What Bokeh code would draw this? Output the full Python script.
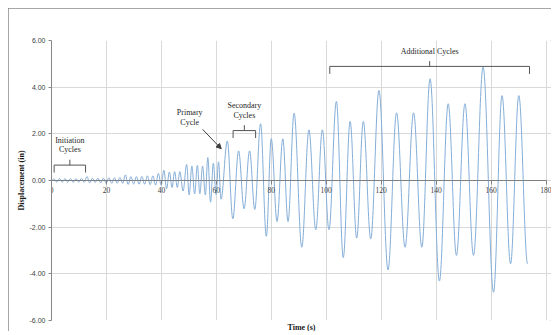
from bokeh.plotting import figure
from bokeh.models import (ColumnDataSource, Label, NumeralTickFormatter, Range1d,
                          Arrow, NormalHead, Title)
from bokeh.embed import file_html
from bokeh.resources import INLINE

# ---- data: extrema of the displacement record (time in s, displacement in in) ----
time_s = [0.0,
          0.9, 1.9, 2.9, 3.9, 4.9, 5.9, 6.9, 7.9, 8.9, 9.9,
          10.9, 11.9, 12.9, 13.9, 14.9, 15.9, 16.9, 17.9, 18.9, 19.9,
          20.9, 21.9, 22.9, 23.9, 24.9, 25.9, 26.9, 27.9, 28.9, 29.9,
          30.9, 31.9, 32.9, 33.9, 34.9, 35.9, 36.9, 37.9, 38.9, 39.9,
          40.9, 41.9, 42.9, 43.9, 44.8, 45.8, 46.7, 47.9, 49.2, 50.1, 51.1,
          52.1, 53.1, 54.0, 55.0, 56.0, 56.9, 57.9, 58.9, 59.9, 60.8, 61.7,
          64.0, 66.0, 68.1, 70.1, 72.1, 74.0, 76.1, 78.2, 80.0, 82.1,
          84.2, 86.1, 88.3, 91.1, 93.7, 96.2, 98.6, 101.0, 103.7, 106.2,
          108.7, 111.1, 113.5, 116.2, 119.2, 122.5, 125.6, 128.7, 131.8, 134.8,
          137.8, 141.2, 144.4, 147.4, 150.5, 153.6, 157.1, 160.9, 164.0, 167.1,
          170.1, 173.3]
disp_in = [0.0,
           0.07, -0.07, 0.08, -0.07, 0.08, -0.07, 0.08, -0.08, 0.08, -0.07,
           0.09, -0.08, 0.17, -0.10, 0.10, -0.09, 0.10, -0.10, 0.10, -0.11,
           0.12, -0.12, 0.12, -0.12, 0.13, -0.12, 0.24, -0.17, 0.17, -0.15,
           0.17, -0.16, 0.18, -0.16, 0.20, -0.18, 0.20, -0.20, 0.30, -0.20,
           0.44, -0.35, 0.36, -0.30, 0.38, -0.30, 0.38, -0.45, 0.69, -0.62, 0.62,
           -0.57, 0.65, -0.57, 0.62, -0.62, 0.98, -0.93, 0.74, -0.60, 0.80, -0.80,
           1.69, -1.64, 1.27, -1.21, 1.27, -1.24, 2.43, -2.39, 1.79, -1.76,
           1.79, -1.76, 2.89, -2.86, 2.17, -2.11, 2.17, -2.11, 3.39, -3.31,
           2.53, -2.47, 2.53, -2.50, 3.86, -3.83, 2.90, -2.86, 2.90, -2.86,
           4.36, -4.31, 3.29, -3.21, 3.29, -3.21, 4.86, -4.79, 3.64, -3.57,
           3.64, -3.57]
assert len(time_s) == len(disp_in)

x_ticks = [0, 20, 40, 60, 80, 100, 120, 140, 160, 180]
y_ticks = [-6, -4, -2, 0, 2, 4, 6]

# annotation braces: (left, right, level)
brace_left = [0.96, 66.1, 101.3]
brace_right = [12.4, 74.3, 174.0]
brace_level = [0.66, 2.14, 4.89]
brace_labels = [["Initiation", "Cycles"], ["Secondary", "Cycles"], ["Additional Cycles"]]
primary_label = ["Primary", "Cycle"]

SERIF = "Liberation Serif"
SANS = "Liberation Sans"
INK = "#262626"

# x range runs slightly past the last tick so its label has room inside the chart box
p = figure(width=543, height=323, output_backend="svg", toolbar_location=None,
           x_range=Range1d(0, 182), y_range=Range1d(-6, 6),
           min_border_left=43, min_border_right=0, min_border_top=32, min_border_bottom=11,
           background_fill_color="white", border_fill_color="white")
p.styles = {"margin-left": "8px", "margin-top": "8px",
            "outline": "1px solid #8a8a8a", "outline-offset": "-1px"}
p.outline_line_color = None

# grid
p.xgrid.grid_line_color = "#d9d9d9"
p.ygrid.grid_line_color = "#d9d9d9"

# x axis at y = 0
xa = p.xaxis[0]
xa.ticker = x_ticks
xa.bounds = (0, 180)
xa.fixed_location = 0
xa.axis_line_color = "#7f7f7f"
xa.axis_line_width = 1.2
xa.major_tick_line_color = "#7f7f7f"
xa.major_tick_out = 4
xa.major_tick_in = 0
xa.minor_tick_line_color = None
xa.major_label_standoff = 2
xa.major_label_text_font = SERIF
xa.major_label_text_font_size = "7.5px"
xa.major_label_text_color = "#404040"

ya = p.yaxis[0]
ya.ticker = y_ticks
ya.formatter = NumeralTickFormatter(format="0.00")
ya.axis_line_color = "#868686"
ya.major_tick_line_color = "#868686"
ya.major_tick_out = 3
ya.major_tick_in = 0
ya.minor_tick_line_color = None
ya.major_label_standoff = 3
ya.major_label_text_font = SANS
ya.major_label_text_font_size = "7px"
ya.major_label_text_color = "#404040"
ya.axis_label = "Displacement (in)"
ya.axis_label_text_font = SERIF
ya.axis_label_text_font_style = "bold"
ya.axis_label_text_font_size = "8px"
ya.axis_label_text_color = "#1a1a1a"
ya.axis_label_standoff = 1

# the record: smooth half-waves between successive extrema
k = 0.3634
x0, x1 = time_s[:-1], time_s[1:]
y0, y1 = disp_in[:-1], disp_in[1:]
src = ColumnDataSource(dict(
    x0=x0, y0=y0, x1=x1, y1=y1,
    cx0=[a + k * (b - a) for a, b in zip(x0, x1)], cy0=y0,
    cx1=[b - k * (b - a) for a, b in zip(x0, x1)], cy1=y1,
))
p.bezier(x0="x0", y0="y0", x1="x1", y1="y1", cx0="cx0", cy0="cy0", cx1="cx1", cy1="cy1",
         source=src, line_color="#84aed8", line_width=1.0)

# braces
drop, rise = 0.32, 0.23
xs, ys = [], []
for l, r, lv in zip(brace_left, brace_right, brace_level):
    m = (l + r) / 2
    xs.append([l, l, r, r]); ys.append([lv - drop, lv, lv, lv - drop])
    xs.append([m, m]); ys.append([lv, lv + rise])
p.multi_line(xs=xs, ys=ys, line_color="#555555", line_width=1)

# brace captions (centres of text lines above each brace)
line_gap = 0.42
for l, r, lv, lines in zip(brace_left, brace_right, brace_level, brace_labels):
    m = (l + r) / 2
    n = len(lines)
    for i, t in enumerate(lines):
        yy = lv + 0.65 + (n - 1 - i) * line_gap
        p.add_layout(Label(x=m, y=yy, text=t, text_font=SERIF, text_font_size="8px",
                           text_align="center", text_baseline="middle", text_color=INK))

# primary cycle label + arrow
for i, t in enumerate(primary_label):
    p.add_layout(Label(x=50.3, y=2.91 - i * 0.42, text=t, text_font=SERIF, text_font_size="8px",
                       text_align="center", text_baseline="middle", text_color=INK))
p.add_layout(Arrow(end=NormalHead(size=5, fill_color="#404040", line_color="#404040"),
                   x_start=55.0, y_start=2.19, x_end=61.8, y_end=1.36,
                   line_color="#404040", line_width=1))

# x axis title below the frame
p.add_layout(Title(text="Time (s)", align="center", text_font=SERIF, text_font_style="bold",
                   text_font_size="8px", text_color="#1a1a1a", standoff=0), "below")

open("out.html", "w").write(file_html(p, INLINE))
